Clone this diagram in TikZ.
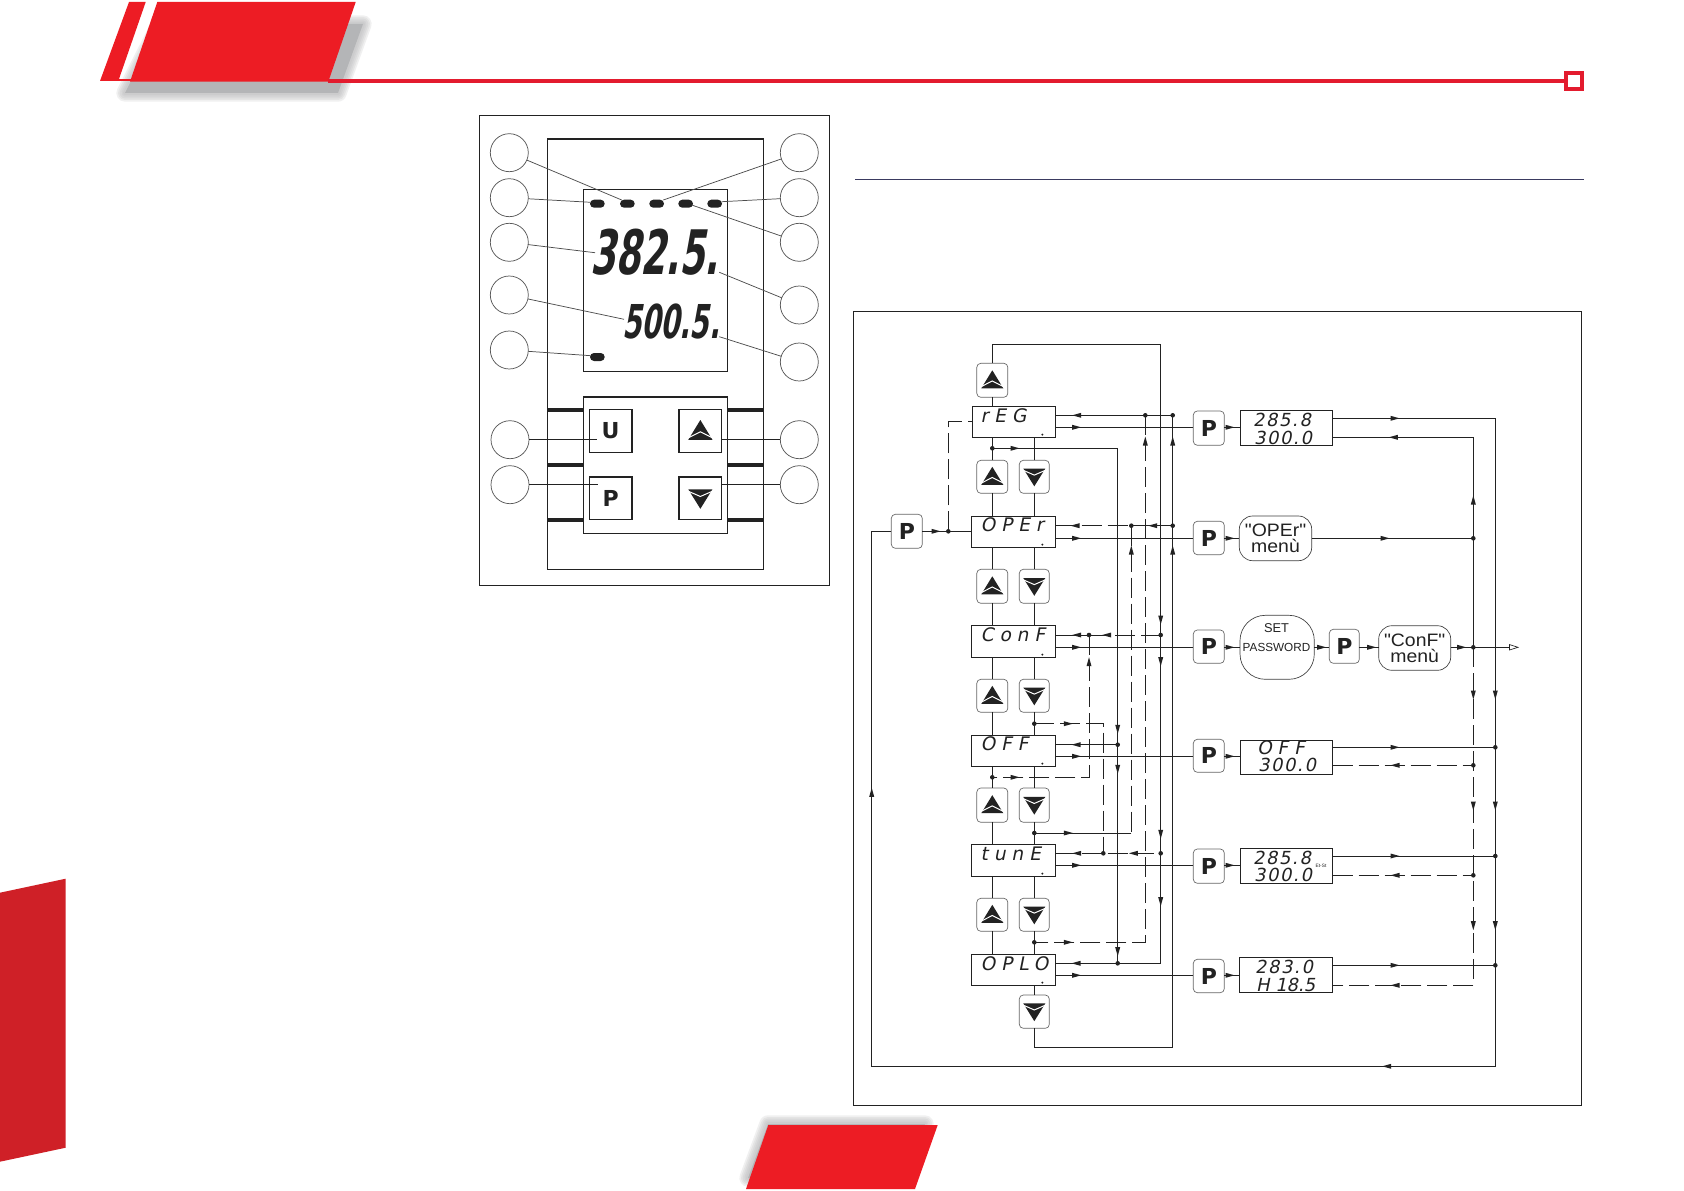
\documentclass[tikz,border=0pt]{standalone}
\usepackage{fontspec}
\setmainfont{Liberation Sans}
\newfontfamily\segbig[FakeSlant=.18,FakeStretch=.59]{DejaVu Sans}
\newfontfamily\segfont[FakeSlant=.2,FakeStretch=1,LetterSpace=31]{DejaVu Sans}
\newfontfamily\segnum[FakeSlant=.2,FakeStretch=1,LetterSpace=9]{DejaVu Sans}
\newfontfamily\segtight[FakeSlant=.2,FakeStretch=1,LetterSpace=0]{DejaVu Sans}
\newfontfamily\menufont[FakeStretch=1.08]{Liberation Sans}
\newfontfamily\keyfont{DejaVu Sans}
\definecolor{brandred}{HTML}{ED1C24}
\definecolor{ruleRed}{HTML}{E31B2E}
\definecolor{tabred}{HTML}{CF2027}
\definecolor{shadowgray}{HTML}{B4B5B7}
\definecolor{ink}{HTML}{222222}
\definecolor{rulenavy}{HTML}{3A3A60}
\tikzset{
  panel/.style={draw=ink,line width=1pt,fill=white,inner sep=0pt,outer sep=0pt},
  disp/.style={draw=ink,line width=.75pt,fill=white,inner sep=0pt,outer sep=0pt},
  btn/.style={draw=black!60,line width=.5pt,fill=white,rounded corners=3pt,inner sep=0pt,outer sep=0pt,font=\keyfont\bfseries\fontsize{16.5}{16.5}\selectfont,text=ink},
  keybtn/.style={draw=ink,line width=.9pt,fill=white,inner sep=0pt,outer sep=0pt,font=\keyfont\bfseries\fontsize{16.5}{16.5}\selectfont,text=ink},
  menubox/.style={draw=black!75,line width=.5pt,fill=white,rounded corners=10pt,inner sep=0pt,outer sep=0pt,align=center,text=ink,font=\menufont\fontsize{13.5}{12}\selectfont},
  pwdbox/.style={draw=black!75,line width=.5pt,fill=white,rounded corners=19pt,inner sep=0pt,outer sep=0pt,align=center},
  led/.style={fill=ink,draw=none,rounded corners=3pt,inner sep=0pt,outer sep=0pt},
  callout/.style={circle,draw=black!65,line width=.55pt,fill=white,minimum size=28.5pt,inner sep=0pt,outer sep=0pt},
  leader/.style={draw=black!70,line width=.55pt},
  keyleader/.style={draw=ink,line width=.7pt},
  conn/.style={draw=ink,line width=.75pt,line join=miter},
  dashconn/.style={draw=ink,line width=.75pt,dash pattern=on 15pt off 4.5pt},
  segtext/.style={anchor=base west,inner sep=0pt,outer sep=0pt,text=ink},
  flowhead/.style={fill=ink,draw=none},
  flowdot/.style={fill=ink,draw=none},
  pics/upglyph/.style={code={
    \fill[ink] (0,-10) -- (11,8) -- (-11,8) -- cycle;
    \draw[white,line width=.75pt] (-11.5,6.5) -- (0,.7) -- (11.5,6.5);}},
  pics/downglyph/.style={code={
    \fill[ink] (0,9.5) -- (11,-8.2) -- (-11,-8.2) -- cycle;
    \draw[white,line width=.75pt] (-11.5,-6.7) -- (0,-1.7) -- (11.5,-6.7);}},
}
\newcommand{\rbox}[7][]{\node[#1,minimum width={(#5-#3)*.75pt},minimum height={(#6-#4)*.75pt}] (#2) at ({(#3+#5)/2},{(#4+#6)/2}) {#7};}
\newcommand{\ah}[3]{\fill[flowhead,shift={(#1,#2)},rotate=#3] (4.5,0) -- (-4.5,2.5) -- (-4.5,-2.5) -- cycle;}
\newcommand{\jdot}[1]{\fill[flowdot] (#1) circle[radius=2.3];}
\newcommand{\softshadow}[1]{\foreach \w in {13,10.5,8,5.5,3}{\draw[draw=shadowgray,line width=\w pt,line join=round,draw opacity=.2] #1;}\fill[shadowgray] #1;}
\newcommand{\segsize}{\fontsize{14}{14}\selectfont}
\newcommand{\numsize}{\fontsize{13.5}{13.5}\selectfont}
\begin{document}
\begin{tikzpicture}[x=.75pt,y=-.75pt]
\useasboundingbox (0,0) rectangle (1684,1191);
\fill[white] (0,0) rectangle (1684,1191);
% ---- page furniture
\softshadow{(160,24) -- (363,24) -- (338,93) -- (125,93) -- cycle}
\fill[brandred] (129,2) -- (145.7,2) -- (118.3,81) -- (100,81) -- cycle;
\fill[brandred] (157.3,2) -- (355.7,2) -- (328.3,81.7) -- (130,81.7) -- cycle;
\fill[brandred] (118,79.5) rectangle (131,81.5);
\draw[ruleRed,line width=3pt] (328,80.7) -- (1566,80.7);
\draw[ruleRed,line width=3pt,fill=white] (1566,73) rectangle (1582,88.7);
\fill[tabred] (0,892.7) -- (65.7,878.7) -- (65.7,1147.7) -- (0,1161.7) -- cycle;
\softshadow{(768,1124) -- (925,1124) -- (900,1178) -- (748,1178) -- cycle}
\fill[brandred] (768.3,1125) -- (937.7,1125) -- (915,1189) -- (746,1189) -- cycle;
\draw[rulenavy,line width=1pt] (855,179.3) -- (1584,179.3);
% ---- front panel drawing
\rbox[panel]{panelframe}{479.3}{115.3}{829.3}{585.3}{}
\rbox[panel]{device}{547.7}{139}{763.3}{569.3}{}
\foreach \yy in {410,465,519.7}{
  \fill[ink] (547.7,\yy-2.2) rectangle (583.3,\yy+2.2);
  \fill[ink] (727.3,\yy-2.2) rectangle (763.3,\yy+2.2);}
\rbox[panel]{lcd}{583.3}{189.3}{727.3}{371.3}{}
\rbox[panel]{keypad}{583.3}{397}{727.3}{533.3}{}
\rbox[keybtn]{keyU}{589.3}{409.7}{632}{452.3}{U}
\rbox[keybtn]{keyUp}{679}{409.7}{721.7}{452.3}{}
\rbox[keybtn]{keyP}{589.3}{477}{632}{519.7}{P}
\rbox[keybtn]{keyDown}{679}{477}{721.7}{519.7}{}
\pic[scale=1.1] at (keyUp) {upglyph};
\pic[scale=1.1] at (keyDown) {downglyph};
\rbox[led]{led1}{590}{199.7}{604.7}{207.7}{}
\rbox[led]{led2}{620}{199.7}{634.7}{207.7}{}
\rbox[led]{led3}{649.3}{199.7}{664}{207.7}{}
\rbox[led]{led4}{678.3}{199.7}{693}{207.7}{}
\rbox[led]{led5}{707.3}{199.7}{722}{207.7}{}
\rbox[led]{led6}{590}{353}{604.7}{361}{}
\node[segtext,font=\segbig\bfseries\fontsize{46}{46}\selectfont] (pvtext) at (590,275) {382.5.};
\node[segtext,font=\segbig\bfseries\fontsize{35}{35}\selectfont] (svtext) at (622,338.3) {500.5.};
\foreach \nm/\xx/\yy in {cl1/509.3/152.7,cl2/509.3/197.7,cl3/509.3/242.3,cl4/509.3/295,cl5/509.3/350,cl6/510/439.7,cl7/510/484.7,
  cr1/799.3/152.7,cr2/799.3/197.7,cr3/799.3/242.3,cr4/799.3/305,cr5/799.3/362,cr6/799.3/439.7,cr7/799.3/484.7}
  {\node[callout] (\nm) at (\xx,\yy) {};}
\coordinate (lt1) at (621.7,200);
\coordinate (lt2) at (590.7,202.3);
\coordinate (lt3) at (595,252.7);
\coordinate (lt4) at (624,319.3);
\coordinate (lt5) at (590.7,355.7);
\coordinate (lt6) at (597.3,439.7);
\coordinate (lt7) at (598.3,484.7);
\coordinate (rt1) at (663.3,200);
\coordinate (rt2) at (721.7,201.7);
\coordinate (rt3) at (691.7,205);
\coordinate (rt4) at (719.3,272.3);
\coordinate (rt5) at (719.3,336.7);
\coordinate (rt6) at (720.7,439.7);
\coordinate (rt7) at (720.7,484.7);
\foreach \a/\b in {cl1/lt1,cl2/lt2,cl3/lt3,cl4/lt4,cl5/lt5,cr1/rt1,cr2/rt2,cr3/rt3,cr4/rt4,cr5/rt5}
  {\draw[leader] (\a) -- (\b);}
\foreach \a/\b in {cl6/lt6,cl7/lt7,cr6/rt6,cr7/rt7}
  {\draw[keyleader] (\a) -- (\b);}
% ---- menu flow chart
\rbox[disp,line width=.8pt]{flowframe}{853.3}{311.3}{1581.3}{1105.3}{}
% state boxes
\rbox[disp]{reg}{972.3}{406.3}{1055.7}{437.3}{}
\rbox[disp]{oper}{971.3}{516.3}{1055.7}{547.3}{}
\rbox[disp]{conf}{971.3}{625.3}{1055.7}{657.3}{}
\rbox[disp]{off}{971.3}{735.3}{1055.7}{766.3}{}
\rbox[disp]{tune}{971.3}{844.3}{1055.7}{876.3}{}
\rbox[disp]{opl}{971.3}{954.3}{1055.7}{985.3}{}
\foreach \bx in {reg,oper,conf,off,tune,opl}
  {\fill[ink] ([xshift=-10pt,yshift=2pt]\bx.south east) circle[radius=1.1];}
\node[segtext,font=\segfont\segsize] (treg) at (980.7,422.7) {rEG};
\node[segtext,font=\segfont\segsize] (toper) at (980.7,531.7) {OPEr};
\node[segtext,font=\segfont\segsize] (tconf) at (980.7,641.7) {ConF};
\node[segtext,font=\segfont\segsize] (toff) at (980.7,750.7) {OFF};
\node[segtext,font=\segfont\segsize] (ttune) at (980.7,860) {tunE};
\node[segtext,font=\segfont\segsize] (topl) at (980.7,970.7) {OPLO};
% up/down buttons
\rbox[btn]{bTop}{976.8}{363.3}{1007.8}{397.3}{}
\rbox[btn]{u1}{976.8}{460.3}{1007.8}{493.3}{}
\rbox[btn]{d1}{1019.3}{460.3}{1049.3}{493.3}{}
\rbox[btn]{u2}{976.8}{569.3}{1007.8}{603.3}{}
\rbox[btn]{d2}{1019.3}{569.3}{1049.3}{603.3}{}
\rbox[btn]{u3}{976.8}{679.3}{1007.8}{712.3}{}
\rbox[btn]{d3}{1019.3}{679.3}{1049.3}{712.3}{}
\rbox[btn]{u4}{976.8}{788}{1007.8}{822.3}{}
\rbox[btn]{d4}{1019.3}{788}{1049.3}{822.3}{}
\rbox[btn]{u5}{976.8}{898.3}{1007.8}{931.3}{}
\rbox[btn]{d5}{1019.3}{898.3}{1049.3}{931.3}{}
\rbox[btn]{d6}{1019.3}{995}{1049.3}{1028.3}{}
\foreach \b in {bTop,u1,u2,u3,u4,u5} {\pic at (\b) {upglyph};}
\foreach \b in {d1,d2,d3,d4,d5,d6} {\pic at (\b) {downglyph};}
% P buttons
\rbox[btn]{p0}{891.3}{514.3}{922.3}{548.3}{P}
\rbox[btn]{p1}{1193.3}{411}{1224.3}{445.3}{P}
\rbox[btn]{p2}{1193.3}{521.3}{1224.3}{554.7}{P}
\rbox[btn]{p3}{1193.3}{630}{1224.3}{663.3}{P}
\rbox[btn]{p3b}{1329.3}{629.3}{1359.3}{663.3}{P}
\rbox[btn]{p4}{1193.3}{739.3}{1224.3}{772.3}{P}
\rbox[btn]{p5}{1193.3}{849}{1224.3}{883.3}{P}
\rbox[btn]{p6}{1193.3}{959.3}{1224.3}{992.7}{P}
% value displays and menus
\rbox[disp]{v1}{1240.3}{410.3}{1332.7}{445.3}{}
\rbox[disp]{v4}{1240.3}{740}{1332.7}{774.3}{}
\rbox[disp]{v5}{1240.3}{848.3}{1332.7}{883.3}{}
\rbox[disp]{v6}{1239.3}{957.3}{1332.7}{992.3}{}
\rbox[menubox]{moper}{1239.3}{516}{1311.7}{560.7}{"OPEr"\\menù}
\rbox[pwdbox]{mpwd}{1240}{615.3}{1314.3}{679.3}{}
\node[inner sep=0pt,font=\fontsize{9.6}{9.6}\selectfont,text=ink] (tset) at (1276.5,628.5) {SET};
\node[inner sep=0pt,font=\fontsize{8.8}{8.8}\selectfont,text=ink] (tpwd) at (1276.5,647.5) {PASSWORD};
\rbox[menubox]{mconf}{1378.7}{625.7}{1450.7}{670.3}{"ConF"\\menù}
\node[segtext,font=\segnum\numsize] (a1) at (1253,426.7) {285.8};
\node[segtext,font=\segnum\numsize] (a2) at (1254,444) {300.0};
\node[segtext,font=\segfont\segsize] (a3) at (1257,754) {OFF};
\node[segtext,font=\segnum\numsize] (a4) at (1258,771.7) {300.0};
\node[segtext,font=\segnum\numsize] (a5) at (1253,864.3) {285.8};
\node[segtext,font=\segnum\numsize] (a6) at (1254,881.7) {300.0};
\node[segtext,font=\segnum\numsize] (a7) at (1255,973.3) {283.0};
\node[segtext,font=\segtight\numsize] (a8) at (1256,991) {H 18.5};
\node[inner sep=0pt,font=\fontsize{3.6}{3.6}\selectfont,text=ink] (a9) at (1321,866) {Et-St};
% route coordinates
\coordinate (yregA) at (1100,415.3);  \coordinate (yregB) at (1100,427.3);
\coordinate (yopA) at (1100,525.7);   \coordinate (yopB) at (1100,538.3);
\coordinate (ycfA) at (1100,635);     \coordinate (ycfB) at (1100,647.3);
\coordinate (yofA) at (1100,744.7);   \coordinate (yofB) at (1100,756.3);
\coordinate (ytuA) at (1100,853.3);   \coordinate (ytuB) at (1100,865.3);
\coordinate (yolA) at (1100,963.3);   \coordinate (yolB) at (1100,975.3);
\coordinate (jregE) at (1145.3,415.3); \coordinate (cregG) at (1172.7,415.3);
\coordinate (jupR) at (992.3,448.3);   \coordinate (cupC) at (1117.7,448.3);
\coordinate (joperD) at (1131.3,525.7);\coordinate (joperG) at (1172.7,525.7);
\coordinate (jconA) at (1089,635);     \coordinate (jconF) at (1160.7,635);
\coordinate (joffU) at (1034.3,723.7); \coordinate (coffB) at (1103.3,723.7);
\coordinate (joffC) at (1117.7,744.7);
\coordinate (joffL) at (992.3,777.3);  \coordinate (coffA) at (1089,777.3);
\coordinate (jtuneD) at (1034.3,833);  \coordinate (ctuneD) at (1131.3,833);
\coordinate (jtuneB) at (1103.3,853.3);\coordinate (jtuneF) at (1160.7,853.3);
\coordinate (joplD) at (1034.3,942.3); \coordinate (coplE) at (1145.3,942.3);
\coordinate (joplC) at (1117.7,963.3); \coordinate (coplF) at (1160.7,963.3);
\coordinate (ctopL) at (992.3,344.3);  \coordinate (ctopR) at (1160.7,344.3);
\coordinate (cendL) at (1034.3,1047.3);\coordinate (cendR) at (1172.7,1047.3);
\coordinate (jpL) at (948.3,531.3);    \coordinate (cpU) at (948.3,421.3);
\coordinate (cpW) at (871.7,531.3);    \coordinate (cbotL) at (871.7,1066.3);
\coordinate (cbotR) at (1495.3,1066.3);\coordinate (ctrI) at (1495.3,418.3);
\coordinate (ctrH) at (1473.3,437.3);  \coordinate (jmenu) at (1473.3,538.3);
\coordinate (jout) at (1473.3,647.3);  \coordinate (cOut) at (1509.5,647.3);
\coordinate (jv4H) at (1473.3,765.3);  \coordinate (jv4I) at (1495.3,747.3);
\coordinate (jv5H) at (1473.3,875.3);  \coordinate (jv5I) at (1495.3,856);
\coordinate (cv6H) at (1473.3,985.3);  \coordinate (jv6I) at (1495.3,965.3);
% vertical links through the buttons
\draw[conn] (bTop.south) -- (bTop.south |- reg.north);
\foreach \a/\b/\c in {reg/u1/oper,reg/d1/oper,oper/u2/conf,oper/d2/conf,conf/u3/off,conf/d3/off,off/u4/tune,off/d4/tune,tune/u5/opl,tune/d5/opl}{
  \draw[conn] (\b.north) -- (\b.north |- \a.south);
  \draw[conn] (\b.south) -- (\b.south |- \c.north);}
\draw[conn] (d6.north) -- (d6.north |- opl.south);
% long solid loops
\draw[conn] (bTop.north) -- (ctopL) -- (ctopR) -- (coplF) -- (opl.east |- coplF);
\draw[conn] (d6.south) -- (cendL) -- (cendR) -- (cregG) -- (reg.east |- cregG);
\draw[conn] (jupR) -- (cupC) -- (joplC);
% outgoing to P buttons
\foreach \bx/\yy/\pp in {reg/yregB/p1,oper/yopB/p2,conf/ycfB/p3,off/yofB/p4,tune/ytuB/p5,opl/yolB/p6}
  {\draw[conn] (\bx.east |- \yy) -- (\pp.west |- \yy);}
% return lines
\draw[dashconn] (oper.east |- yopA) -- (joperD);
\draw[conn] (joperD) -- (joperG);
\draw[conn] (conf.east |- ycfA) -- (jconA);
\draw[dashconn] (jconA) -- (jconF);
\draw[conn] (off.east |- yofA) -- (joffC);
\draw[dashconn] (tune.east |- ytuA) -- (jtuneF);
\draw[dashconn] (jregE) -- (coplE) -- (joplD);
\draw[dashconn] (joperD) -- (ctuneD);
\draw[conn] (ctuneD) -- (jtuneD);
\draw[dashconn] (jconA) -- (coffA) -- (joffL);
\draw[dashconn] (joffU) -- (coffB) -- (jtuneB);
% left P button
\draw[conn] (p0.east) -- (oper.west |- p0.east);
\draw[dashconn] (jpL) -- (cpU) -- (reg.west |- cpU);
\draw[conn] (p0.west) -- (cpW) -- (cbotL) -- (cbotR) -- (ctrI) -- (v1.east |- ctrI);
% right side
\draw[conn] (p1.east |- yregB) -- (v1.west |- yregB);
\draw[conn] (p2.east |- yopB) -- (moper.west |- yopB);
\draw[conn] (p3.east |- ycfB) -- (mpwd.west |- ycfB);
\draw[conn] (mpwd.east |- ycfB) -- (p3b.west |- ycfB);
\draw[conn] (p3b.east |- ycfB) -- (mconf.west |- ycfB);
\draw[conn] (mconf.east |- ycfB) -- (cOut);
\draw[conn] (p4.east |- yofB) -- (v4.west |- yofB);
\draw[conn] (p5.east |- ytuB) -- (v5.west |- ytuB);
\draw[conn] (p6.east |- yolB) -- (v6.west |- yolB);
\draw[conn] (v1.east |- ctrH) -- (ctrH) -- (jout);
\draw[conn] (moper.east |- jmenu) -- (jmenu);
\draw[dashconn] (jout) -- (cv6H) -- (v6.east |- cv6H);
\draw[conn] (v4.east |- jv4I) -- (jv4I);
\draw[dashconn] (v4.east |- jv4H) -- (jv4H);
\draw[conn] (v5.east |- jv5I) -- (jv5I);
\draw[dashconn] (v5.east |- jv5H) -- (jv5H);
\draw[conn] (v6.east |- jv6I) -- (jv6I);
\draw[draw=ink,fill=white,line width=.5pt] (1518,647.3) -- (1509.5,644.6) -- (1509.5,650) -- cycle;
% junction dots
\foreach \j in {jregE,cregG,jupR,joperD,joperG,jconA,jconF,joffU,joffC,joffL,jtuneD,jtuneB,jtuneF,joplD,joplC,jpL,jmenu,jout,jv4H,jv4I,jv5H,jv5I,jv6I}
  {\jdot{\j}}
% arrowheads
\foreach \xx/\yy in {1076.7/415.3,1075/525.7,1152.7/525.7,1076.7/635,1106.7/635,1076/744.7,1076.7/853.3,1133.3/853.3,1076/963.3,1393.3/437.3,1395/765.3,1395/875.3,1395/985.3,1386.7/1066.3}
  {\ah{\xx}{\yy}{180}}
\foreach \xx/\yy in {1076.7/427.3,1076.7/538.3,1076.7/647.3,1076.7/756.3,1076.7/865.3,1076.7/975.3,1015/448.3,1068.3/723.7,1015/777.3,1068.3/833,1068.3/942.3,936/531.3,1230/427.3,1230/538.3,1230/647.3,1230/756.3,1230/865.3,1230/975.3,1321.7/647.3,1371.7/647.3,1461.7/647.3,1395/418.3,1385/538.3,1395/747.3,1395/856,1395/965.3}
  {\ah{\xx}{\yy}{0}}
\foreach \xx/\yy in {1145.3/441,1172.7/441,1172.7/550,1131.3/550,1089/661.7,871.7/792.3,1473.3/500}
  {\ah{\xx}{\yy}{90}}
\foreach \xx/\yy in {1160.7/620,1160.7/661.7,1160.7/834.3,1160.7/901.7,1117.7/729.3,1117.7/769.3,1117.7/951.7,1473.3/695,1495.3/695,1473.3/806,1495.3/806,1473.3/925.7,1495.3/925.7}
  {\ah{\xx}{\yy}{270}}
\end{tikzpicture}
\end{document}
